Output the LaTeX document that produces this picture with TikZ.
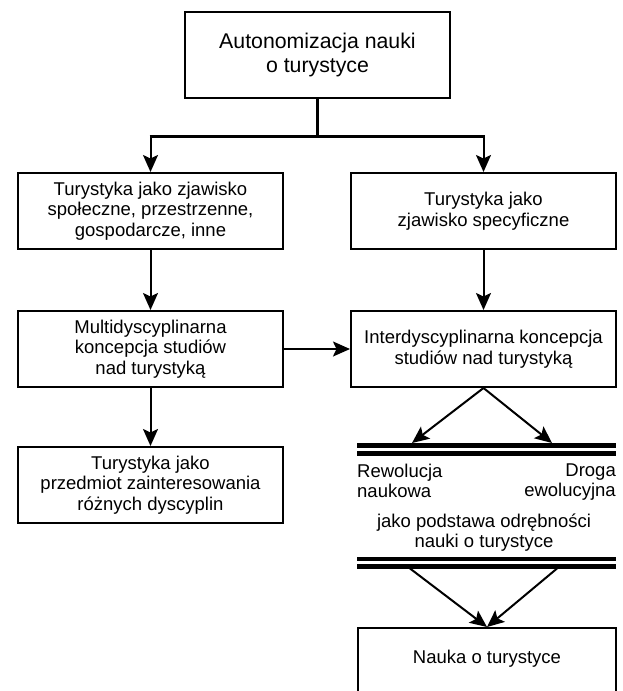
\documentclass[tikz,border=0pt]{standalone}
\usepackage{fontspec}
\setmainfont{Liberation Sans}
\usetikzlibrary{arrows.meta}

\begin{document}
\begin{tikzpicture}[x=1pt, y=-1pt, every node/.style={font=\fontsize{18.5}{20.5}\selectfont, inner sep=0pt},
  box/.style={draw, line width=2pt, minimum width=265pt, minimum height=76pt, align=center},
  arr/.style={line width=2pt, -{Stealth[length=17pt, width=15pt, inset=3.5pt]}},
  bar/.style={line width=4.5pt}]
\useasboundingbox (0,0) rectangle (622,691);
\node[box, minimum height=86pt, font=\fontsize{21.3}{24}\selectfont] (auto) at (317.5,55) {Autonomizacja nauki\\o turystyce};
\node[box] (zjaw) at (150.5,211) {Turystyka jako zjawisko\\społeczne, przestrzenne,\\gospodarcze, inne};
\node[box] (spec) at (483.5,211) {Turystyka jako\\zjawisko specyficzne};
\node[box] (multi) at (150.5,349) {Multidyscyplinarna\\koncepcja studiów\\nad turystyką};
\node[box] (inter) at (483.5,349) {Interdyscyplinarna koncepcja\\studiów nad turystyką};
\node[box] (przed) at (150.5,485) {Turystyka jako\\przedmiot zainteresowania\\różnych dyscyplin};
\node[box, anchor=north, minimum width=258pt, text height=13pt, text depth=40pt, inner ysep=22pt] (nauka) at (487,627) {Nauka o turystyce};

% split from the top box
\draw[line width=3pt] (auto.south) -- (auto.south |- 0,136) coordinate (split);
\coordinate (splitL) at (split -| zjaw.north); \coordinate (splitR) at (split -| spec.north);
\draw[line width=3pt] ([xshift=-1pt]splitL) -- ([xshift=1pt]splitR);
\draw[arr] (splitL) -- (zjaw.north); \draw[arr] (splitR) -- (spec.north);
\draw[arr] (zjaw) -- (multi); \draw[arr] (spec) -- (inter);
\draw[arr] (multi) -- (przed); \draw[arr] (multi) -- (inter);

% double bars
\draw[bar] (357,445.5) -- (616,445.5); \draw[bar] (357,453.5) -- (616,453.5);
\draw[bar] (357,559) -- (616,559); \draw[bar] (357,566.5) -- (616,566.5);
\coordinate (rew) at (412,443); \coordinate (dro) at (552,443);
\draw[arr] (inter.south) -- (rew); \draw[arr] (inter.south) -- (dro);
\node[anchor=north west, align=left] (rewol) at (357,463.5) {Rewolucja\\naukowa};
\node[anchor=north east, align=right] (droga) at (616,463.5) {Droga\\ewolucyjna};
\node[anchor=north, align=center] (podst) at (484,513.5) {jako podstawa odrębności\\nauki o turystyce};
\coordinate (barL) at (410,568.5); \coordinate (barR) at (557,568.5);
\draw[arr] (barL) -- (nauka.north); \draw[arr] (barR) -- (nauka.north);
\end{tikzpicture}
\end{document}
